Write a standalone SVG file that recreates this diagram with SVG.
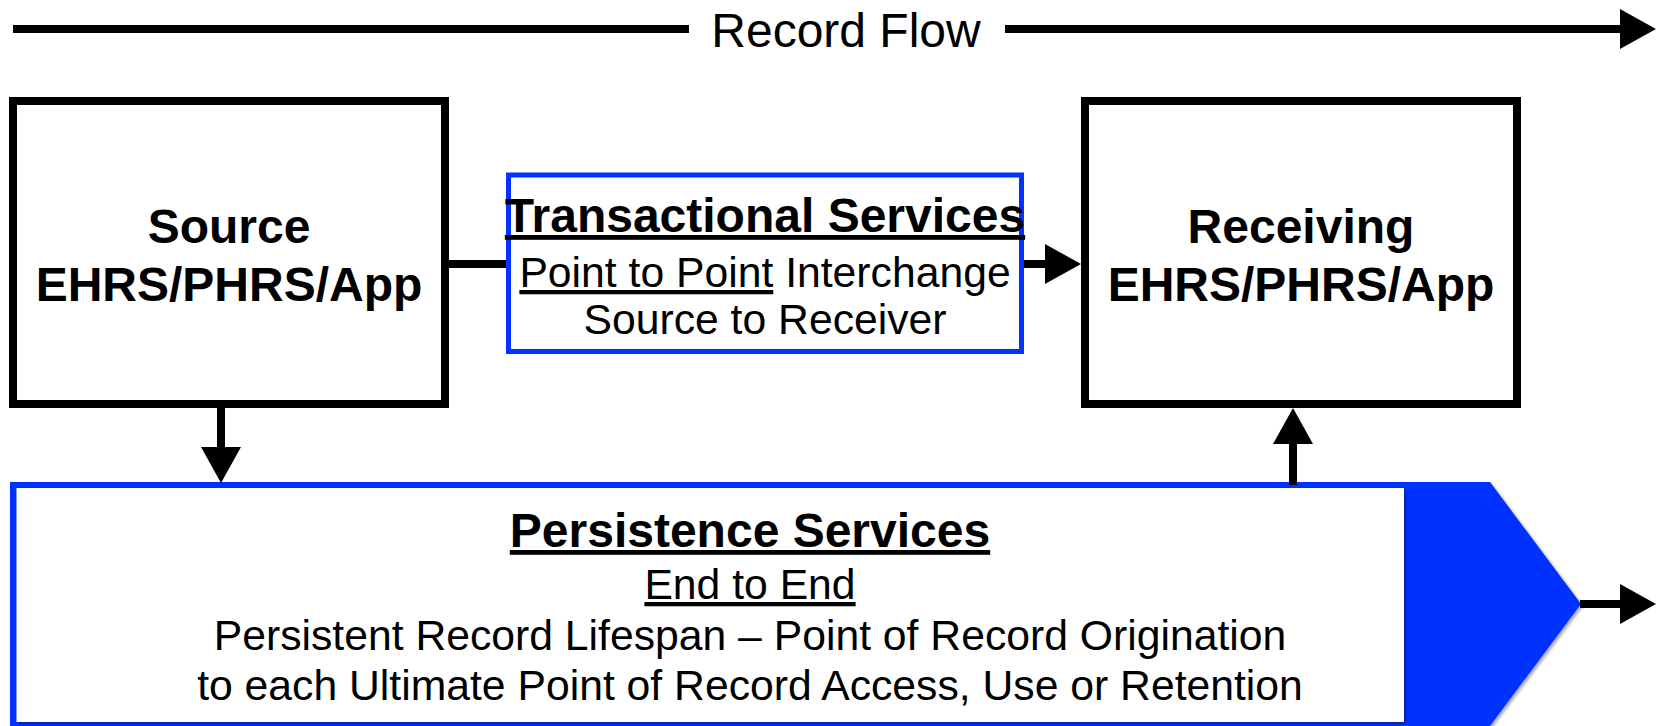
<svg xmlns="http://www.w3.org/2000/svg" width="1656" height="726" viewBox="0 0 1656 726">
  <style>
    text { font-family: "Liberation Sans", Arial, Helvetica, sans-serif; fill: #000; text-anchor: middle; }
    .bold { font-weight: bold; font-size: 48px; }
    .reg { font-size: 42.7px; }
    .title { font-size: 48px; }
    .u { text-decoration: underline; }
    .box { fill: #fff; stroke: #000; stroke-width: 8; }
    .bluebox { fill: #fff; stroke: #0433ff; stroke-width: 5; }
    .conn { fill: none; stroke: #000; stroke-width: 8; }
  </style>
  <defs>
    <marker id="ah" viewBox="0 0 36 40" markerWidth="36" markerHeight="40" refX="1" refY="20" markerUnits="userSpaceOnUse" orient="auto">
      <path d="M0,0 L36,20 L0,40 z" fill="#000"/>
    </marker>
    <filter id="sh" x="-5%" y="-5%" width="110%" height="110%">
      <feDropShadow dx="2" dy="2" stdDeviation="1.5" flood-color="#000" flood-opacity="0.35"/>
    </filter>
  </defs>
  <rect width="1656" height="726" fill="#fff"/>

  <g id="record-flow">
    <text class="title" x="846" y="47">Record Flow</text>
  </g>

  <g id="persistence">
    <polygon points="10,482 1490,482 1581,604 1490,726 10,726" fill="#0433ff" filter="url(#sh)"/>
    <rect x="16.5" y="488" width="1387.5" height="234" fill="#fff" filter="url(#sh)"/>
    <text class="bold u" x="750" y="547">Persistence Services</text>
    <text class="reg u" x="750" y="599">End to End</text>
    <text class="reg" x="750" y="650">Persistent Record Lifespan – Point of Record Origination</text>
    <text class="reg" x="750" y="700">to each Ultimate Point of Record Access, Use or Retention</text>
  </g>

  <g id="source">
    <rect class="box" x="13" y="101" width="432" height="303"/>
    <text class="bold" x="229" y="243">Source</text>
    <text class="bold" x="229" y="301">EHRS/PHRS/App</text>
  </g>

  <g id="receiving">
    <rect class="box" x="1085" y="101" width="432" height="303"/>
    <text class="bold" x="1301" y="243">Receiving</text>
    <text class="bold" x="1301" y="301">EHRS/PHRS/App</text>
  </g>

  <g id="connectors">
    <line class="conn" x1="13" y1="29" x2="689" y2="29"/>
    <line class="conn" x1="1005" y1="29" x2="1621" y2="29" marker-end="url(#ah)"/>
    <line class="conn" x1="445" y1="264" x2="508" y2="264"/>
    <line class="conn" x1="1021" y1="264" x2="1046" y2="264" marker-end="url(#ah)"/>
    <line class="conn" x1="221" y1="404" x2="221" y2="448" marker-end="url(#ah)"/>
    <line class="conn" x1="1293" y1="485" x2="1293" y2="443" marker-end="url(#ah)"/>
    <line class="conn" x1="1580" y1="604" x2="1621" y2="604" marker-end="url(#ah)"/>
  </g>

  <g id="transactional">
    <rect class="bluebox" x="508.5" y="175" width="513" height="176.5"/>
    <text class="bold u" x="765" y="232">Transactional Services</text>
    <text class="reg" x="765" y="287"><tspan class="u">Point to Point</tspan> Interchange</text>
    <text class="reg" x="765" y="334">Source to Receiver</text>
  </g>
</svg>
